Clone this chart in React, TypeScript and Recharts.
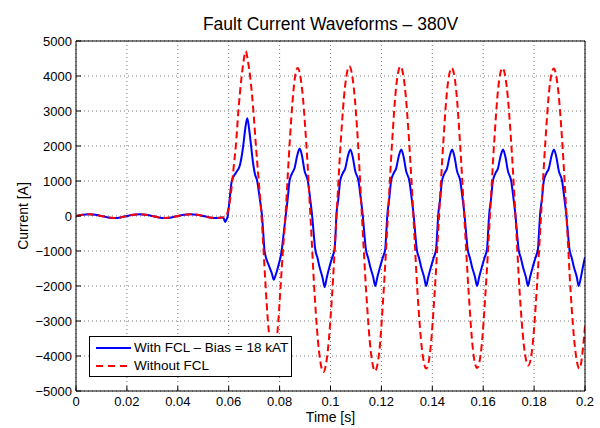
import React from "react";
import { LineChart, Line, XAxis, YAxis, CartesianGrid, Label } from "recharts";

const FONT = '"Liberation Sans", Arial, Helvetica, sans-serif';

// axis ticks
const timeTicks = [0, 0.02, 0.04, 0.06, 0.08, 0.1, 0.12, 0.14, 0.16, 0.18, 0.2];
const currentTicks = [-5000, -4000, -3000, -2000, -1000, 0, 1000, 2000, 3000, 4000, 5000];

// load current before the fault, same for both cases
const preFaultTime = [
  0, 0.0025, 0.005, 0.0075, 0.01, 0.0125, 0.015, 0.0175, 0.02, 0.0225, 0.025, 0.0275,
  0.03, 0.0325, 0.035, 0.0375, 0.04, 0.0425, 0.045, 0.0475, 0.05, 0.0525, 0.055, 0.0575,
];
const preFaultCurrent = [
  0, 35, 50, 35, 0, -40, -55, -40, 0, 35, 50, 35,
  0, -40, -55, -40, 0, 35, 50, 35, 0, -40, -55, -40,
];

// with FCL (blue), after the fault
const withFclTime = [
  0.0581, 0.0586, 0.0591, 0.0596, 0.0604, 0.0612, 0.0628, 0.0644, 0.0657, 0.0666, 0.0673, 0.068,
  0.0688, 0.0696, 0.0703, 0.0712, 0.0722, 0.0731, 0.0736, 0.0741, 0.0757, 0.077, 0.0777, 0.0784,
  0.0796, 0.0808, 0.0816,
  0.0824, 0.0832, 0.0839, 0.0849, 0.0859, 0.0869, 0.0879, 0.0888, 0.0898, 0.0911, 0.092, 0.0928,
  0.0934, 0.094, 0.0949, 0.0957, 0.0969, 0.0977, 0.0985, 0.0996, 0.1006, 0.1016, 0.102,
  0.1023, 0.1031, 0.1038, 0.1048, 0.1058, 0.1068, 0.1078, 0.1087, 0.1097, 0.111, 0.1119, 0.1127,
  0.1133, 0.1139, 0.1148, 0.1156, 0.1168, 0.1176, 0.1184, 0.1195, 0.1205, 0.1215, 0.1219,
  0.1223, 0.1231, 0.1238, 0.1248, 0.1258, 0.1268, 0.1278, 0.1287, 0.1297, 0.131, 0.1319, 0.1327,
  0.1333, 0.1339, 0.1348, 0.1356, 0.1368, 0.1376, 0.1384, 0.1395, 0.1405, 0.1415, 0.1419,
  0.1423, 0.1431, 0.1438, 0.1448, 0.1458, 0.1468, 0.1478, 0.1487, 0.1497, 0.151, 0.1519, 0.1527,
  0.1533, 0.1539, 0.1548, 0.1556, 0.1568, 0.1576, 0.1584, 0.1595, 0.1605, 0.1615, 0.1619,
  0.1623, 0.1631, 0.1638, 0.1648, 0.1658, 0.1668, 0.1678, 0.1687, 0.1697, 0.171, 0.1719, 0.1727,
  0.1733, 0.1739, 0.1748, 0.1756, 0.1768, 0.1776, 0.1784, 0.1795, 0.1805, 0.1815, 0.1819,
  0.1823, 0.1831, 0.1838, 0.1848, 0.1858, 0.1868, 0.1878, 0.1887, 0.1897, 0.191, 0.1919, 0.1927,
  0.1933, 0.1939, 0.1948, 0.1956, 0.1968, 0.1975, 0.1984, 0.1992, 0.2,
];
const withFclCurrent = [
  -80, -170, -110, 0, 500, 1000, 1230, 1450, 2000, 2550, 2790, 2500,
  2000, 1500, 1200, 1000, 500, 0, -500, -1000, -1400, -1650, -1820, -1700,
  -1400, -1000, -500,
  0, 500, 1000, 1220, 1370, 1720, 1926, 1720, 1290, 1000, 500, 0,
  -500, -950, -1200, -1460, -1770, -2029, -1770, -1450, -1200, -950, -500,
  0, 500, 1000, 1220, 1360, 1700, 1900, 1700, 1290, 1000, 500, 0,
  -500, -950, -1200, -1450, -1750, -2000, -1750, -1450, -1200, -950, -500,
  0, 500, 1000, 1220, 1360, 1700, 1900, 1700, 1290, 1000, 500, 0,
  -500, -950, -1200, -1450, -1750, -2000, -1750, -1450, -1200, -950, -500,
  0, 500, 1000, 1220, 1360, 1700, 1900, 1700, 1290, 1000, 500, 0,
  -500, -950, -1200, -1450, -1750, -2000, -1750, -1450, -1200, -950, -500,
  0, 500, 1000, 1220, 1360, 1700, 1900, 1700, 1290, 1000, 500, 0,
  -500, -950, -1200, -1450, -1750, -2000, -1750, -1450, -1200, -950, -500,
  0, 500, 1000, 1220, 1360, 1700, 1900, 1700, 1290, 1000, 500, 0,
  -500, -950, -1200, -1450, -1750, -2000, -1750, -1450, -1180,
];

// without FCL (red dashed), after the fault
const withoutFclTime = [
  0.0589, 0.06, 0.0607, 0.0614, 0.0621, 0.0628, 0.0638, 0.0651, 0.0659, 0.0667, 0.0675, 0.0684,
  0.0697, 0.0707, 0.0718, 0.0729, 0.0737, 0.0745, 0.0754, 0.0763, 0.0775, 0.0787, 0.0795, 0.0804,
  0.0813, 0.0823, 0.0832, 0.0841, 0.085, 0.086, 0.0871,
  0.0888, 0.0905, 0.0922, 0.0938, 0.0955, 0.0972, 0.0989, 0.1006, 0.1023, 0.104, 0.1057, 0.1074,
  0.1091, 0.1108, 0.1124, 0.1141, 0.1158, 0.1175, 0.1192, 0.1208, 0.1225, 0.1242, 0.1258, 0.1275,
  0.1292, 0.1309, 0.1326, 0.1342, 0.1359, 0.1376, 0.1393, 0.1409, 0.1426, 0.1443, 0.1459, 0.1476,
  0.1493, 0.1509, 0.1526, 0.1543, 0.1559, 0.1576, 0.1593, 0.1609, 0.1626, 0.1643, 0.1659, 0.1676,
  0.1693, 0.171, 0.1727, 0.1743, 0.176, 0.1777, 0.1794, 0.181, 0.1827, 0.1844, 0.186, 0.1877,
  0.1894, 0.1911, 0.1928, 0.1944, 0.1961, 0.1978, 0.2,
];
const withoutFclCurrent = [
  -20, 250, 550, 1000, 1500, 2000, 3000, 4000, 4450, 4710, 4450, 4000,
  3000, 2000, 1000, 0, -1000, -2000, -3000, -3650, -4000, -3650, -3000, -2000,
  -1000, 0, 1150, 2250, 3200, 3950, 4229,
  3647, 2057, -116, -2288, -3878, -4460, -3875, -2276, -92, 2093, 3692, 4277,
  3694, 2100, -77, -2253, -3847, -4430, -3847, -2253, -77, 2100, 3694, 4277,
  3698, 2118, -42, -2201, -3781, -4360, -3785, -2213, -66, 2082, 3653, 4229,
  3655, 2086, -58, -2202, -3771, -4345, -3771, -2202, -58, 2086, 3655, 4229,
  3660, 2104, -21, -2145, -3701, -4270, -3702, -2150, -30, 2091, 3643, 4211,
  3637, 2068, -75, -2217, -3786, -4360, -3150,
];

const toPoints = (t: number[], v: number[]) => t.map((x, k) => ({ t: x, i: v[k] }));

const withFclData = toPoints(
  [...preFaultTime, ...withFclTime],
  [...preFaultCurrent, ...withFclCurrent]
);
const withoutFclData = toPoints(
  [...preFaultTime, ...withoutFclTime],
  [...preFaultCurrent, ...withoutFclCurrent]
);

const fmtCurrent = (v: number) => (v < 0 ? `\u2212${-v}` : `${v}`);

const tickStyle = { fill: "#000", fontSize: 13, fontFamily: FONT };

export default function App() {
  return (
    <div style={{ position: "absolute", left: 0, top: 0, width: 600, height: 428, background: "#fff" }}>
      <LineChart width={600} height={428} margin={{ top: 0, right: 0, bottom: 0, left: 0 }}>
        <CartesianGrid stroke="#777" strokeDasharray="1 3" />
        <XAxis
          dataKey="t"
          type="number"
          domain={[0, 0.2]}
          ticks={timeTicks}
          interval={0}
          allowDataOverflow
          height={37}
          stroke="#000"
          tickSize={-5}
          tickMargin={11}
          tick={tickStyle}
        >
          <Label value="Time [s]" position="insideBottom" offset={6} fill="#000" fontSize={14} fontFamily={FONT} />
        </XAxis>
        <XAxis
          xAxisId="top"
          orientation="top"
          dataKey="t"
          type="number"
          domain={[0, 0.2]}
          ticks={timeTicks}
          interval={0}
          allowDataOverflow
          height={41}
          stroke="#000"
          tickSize={-5}
          tick={false}
        >
          <Label
            value="Fault Current Waveforms – 380V"
            position="insideTop"
            offset={18}
            fill="#000"
            fontSize={17.5}
            fontFamily={FONT}
          />
        </XAxis>
        <YAxis
          type="number"
          domain={[-5000, 5000]}
          ticks={currentTicks}
          interval={0}
          allowDataOverflow
          width={76}
          stroke="#000"
          tickSize={-5}
          tickMargin={9}
          tick={tickStyle}
          tickFormatter={fmtCurrent}
        >
          <Label
            value="Current [A]"
            angle={-90}
            position="insideLeft"
            offset={23}
            fill="#000"
            fontSize={14}
            fontFamily={FONT}
            style={{ textAnchor: "middle" }}
          />
        </YAxis>
        <YAxis
          yAxisId="right"
          orientation="right"
          type="number"
          domain={[-5000, 5000]}
          ticks={currentTicks}
          interval={0}
          allowDataOverflow
          width={15}
          stroke="#000"
          tickSize={-5}
          tick={false}
        />
        <Line
          data={withFclData}
          dataKey="i"
          type="monotone"
          stroke="#0000ff"
          strokeWidth={2}
          dot={false}
          activeDot={false}
          isAnimationActive={false}
        />
        <Line
          data={withoutFclData}
          dataKey="i"
          type="monotone"
          stroke="#ff0000"
          strokeWidth={2}
          strokeDasharray="7 4"
          dot={false}
          activeDot={false}
          isAnimationActive={false}
        />
      </LineChart>

      {/* legend box, lower left like the original */}
      <div
        style={{
          position: "absolute",
          left: 89,
          top: 336,
          width: 203,
          height: 41,
          boxSizing: "border-box",
          border: "1px solid #000",
          background: "#fff",
          fontFamily: FONT,
          fontSize: 13.5,
          color: "#000",
          paddingTop: 2,
        }}
      >
        {[
          { name: "With FCL \u2013 Bias = 18 kAT", color: "#0000ff", dash: undefined },
          { name: "Without FCL", color: "#ff0000", dash: "7 5" },
        ].map((s) => (
          <div key={s.name} style={{ display: "flex", alignItems: "center", height: 18, marginLeft: 6 }}>
            <svg width={35} height={4} style={{ display: "block" }}>
              <line x1={0} y1={2} x2={35} y2={2} stroke={s.color} strokeWidth={2} strokeDasharray={s.dash} />
            </svg>
            <span style={{ marginLeft: 3, whiteSpace: "nowrap", lineHeight: "18px" }}>{s.name}</span>
          </div>
        ))}
      </div>
    </div>
  );
}
